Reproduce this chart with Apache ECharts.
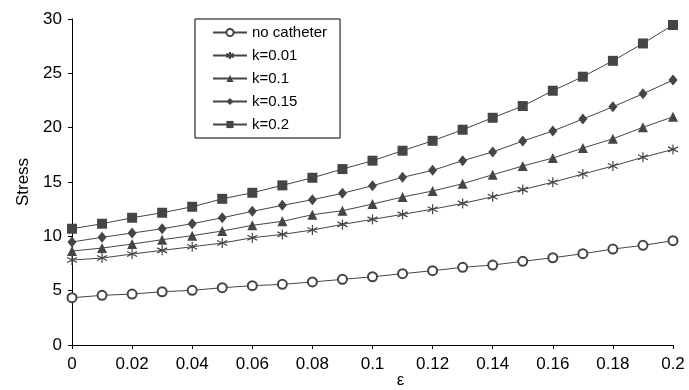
<!DOCTYPE html>
<html>
<head>
<meta charset="utf-8">
<script src="https://cdn.jsdelivr.net/npm/echarts@6/dist/echarts.min.js"></script>
<style>
  html, body { margin: 0; padding: 0; background: #fff; }
  #chart { width: 689px; height: 390px; }
</style>
</head>
<body>
<div id="chart"></div>
<script>
// strain values on the x axis
const epsilon = [0, 0.01, 0.02, 0.03, 0.04, 0.05, 0.06, 0.07, 0.08, 0.09, 0.1,
  0.11, 0.12, 0.13, 0.14, 0.15, 0.16, 0.17, 0.18, 0.19, 0.2];

const noCatheter = [4.35, 4.57, 4.69, 4.9, 5.03, 5.27, 5.46, 5.58, 5.8, 6.04, 6.28,
  6.56, 6.84, 7.15, 7.36, 7.7, 8.03, 8.4, 8.83, 9.17, 9.6];
const k001 = [7.82, 8.0, 8.37, 8.71, 9.04, 9.38, 9.87, 10.18, 10.58, 11.1, 11.56,
  12.02, 12.5, 13.03, 13.64, 14.3, 14.98, 15.73, 16.47, 17.27, 18.0];
const k01 = [8.65, 8.92, 9.29, 9.69, 10.06, 10.49, 11.01, 11.38, 11.99, 12.36, 12.97,
  13.62, 14.17, 14.84, 15.67, 16.47, 17.2, 18.12, 18.98, 20.03, 21.0];
const k015 = [9.48, 9.91, 10.3, 10.7, 11.16, 11.71, 12.3, 12.85, 13.37, 13.96, 14.66,
  15.43, 16.07, 16.96, 17.76, 18.77, 19.69, 20.79, 21.92, 23.12, 24.38];
const k02 = [10.7, 11.16, 11.71, 12.17, 12.72, 13.45, 14.01, 14.69, 15.39, 16.19, 16.96,
  17.88, 18.79, 19.81, 20.91, 21.99, 23.4, 24.69, 26.15, 27.75, 29.45];

const seriesNames = ['no catheter', 'k=0.01', 'k=0.1', 'k=0.15', 'k=0.2'];
const seriesValues = [noCatheter, k001, k01, k015, k02];

const lineColor = '#454545';
const asterisk = 'path://M0,-6L0,6M-5.2,-3L5.2,3M-5.2,3L5.2,-3';
const symbols = ['emptyCircle', asterisk, 'triangle', 'diamond', 'rect'];
const symbolSizes = [9, 10, 10, [9, 11], 10];

const chart = echarts.init(document.getElementById('chart'));

const series = seriesNames.map((name, i) => ({
  name: name,
  type: 'line',
  data: epsilon.map((x, j) => [x, seriesValues[i][j]]),
  symbol: symbols[i],
  symbolSize: symbolSizes[i],
  showAllSymbol: true,
  lineStyle: { color: lineColor, width: 1 },
  itemStyle: i === 1
    ? { color: lineColor, borderColor: lineColor, borderWidth: 1.2 }
    : { color: lineColor, borderColor: lineColor, borderWidth: i === 0 ? 1 : 0 },
  emphasis: { disabled: true },
  animation: false
}));

const option = {
  backgroundColor: '#fff',
  textStyle: { fontFamily: 'Liberation Sans, Arial, sans-serif', color: '#000' },
  grid: { left: 72, right: 16, top: 19, bottom: 45, outerBoundsMode: 'none' },
  legend: {
    orient: 'vertical',
    left: 195,
    top: 19,
    padding: [6, 13, 6, 17],
    itemWidth: 34,
    itemHeight: 9,
    itemGap: 8,
    borderColor: '#000',
    borderWidth: 1,
    textStyle: { fontSize: 15, color: '#000', fontFamily: 'Liberation Sans, Arial, sans-serif' },
    data: seriesNames
  },
  xAxis: {
    type: 'value',
    min: 0,
    max: 0.2,
    interval: 0.02,
    name: 'ε',
    nameLocation: 'middle',
    nameGap: 27,
    nameMoveOverlap: false,
    nameTextStyle: { fontSize: 17, color: '#000', padding: [0, 0, 0, 56] },
    axisLine: { lineStyle: { color: '#000', width: 1 } },
    axisTick: { show: true, length: 4, lineStyle: { color: '#000' } },
    axisLabel: { fontSize: 17, color: '#000', margin: 11 },
    splitLine: { show: false }
  },
  yAxis: {
    type: 'value',
    min: 0,
    max: 30,
    interval: 5,
    name: 'Stress',
    nameLocation: 'middle',
    nameGap: 40,
    nameTextStyle: { fontSize: 17, color: '#000' },
    axisLine: { show: true, lineStyle: { color: '#000', width: 1 } },
    axisTick: { show: true, length: 4, lineStyle: { color: '#000' } },
    axisLabel: { fontSize: 17, color: '#000', margin: 10 },
    splitLine: { show: false }
  },
  series: series
};

chart.setOption(option);
</script>
</body>
</html>
